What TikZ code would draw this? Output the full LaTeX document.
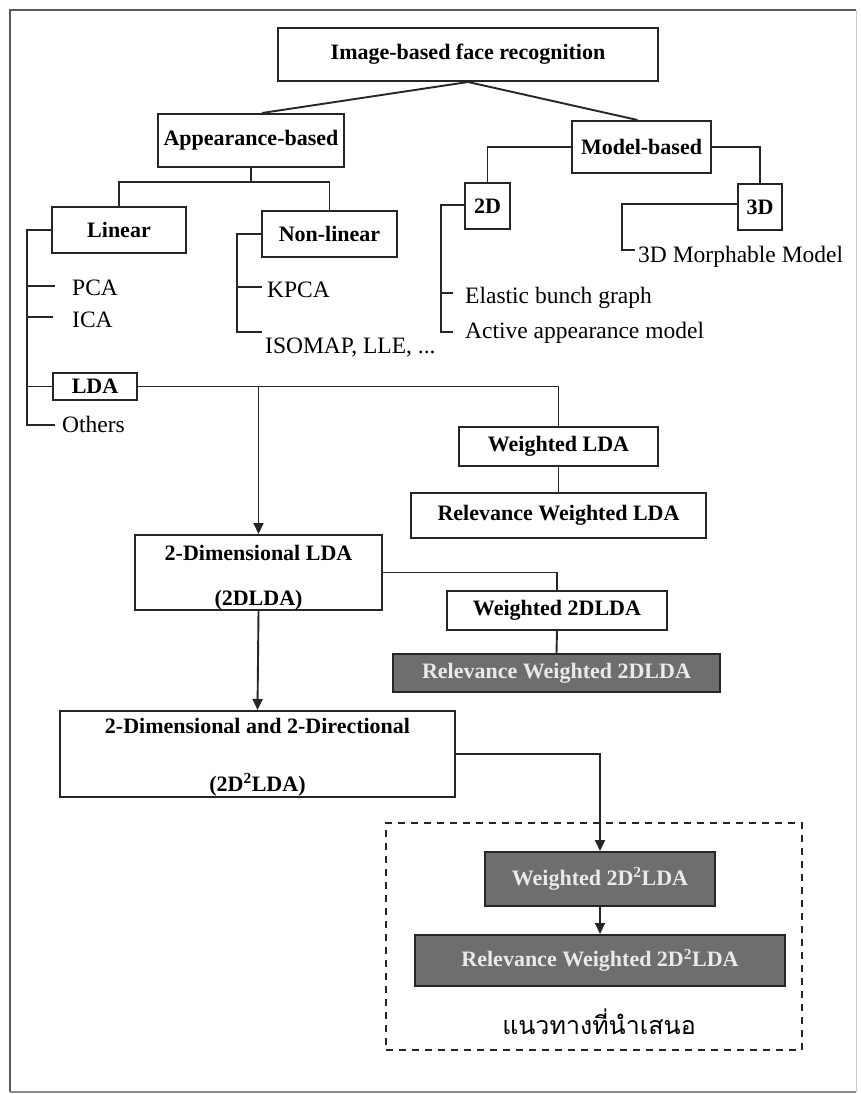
\documentclass[tikz,border=0pt]{standalone}
\usepackage{fontspec}
\setmainfont{Liberation Serif}
\newfontfamily\thaifont[Script=Thai]{Loma}
\usetikzlibrary{arrows.meta,calc}

\definecolor{linec}{HTML}{262626}
\definecolor{boxgray}{HTML}{6E6E6E}
\definecolor{boxtext}{HTML}{EAEAEA}
\definecolor{framec}{HTML}{5A5A5A}

\tikzset{
  box/.style={draw=linec, line width=2pt, fill=white, inner sep=0pt,
    font=\bfseries\fontsize{22}{26}\selectfont, text=black, align=center},
  darkbox/.style={box, fill=boxgray, text=boxtext},
  leaf/.style={anchor=base west, inner sep=0pt, font=\fontsize{23.5}{28}\selectfont},
  wire/.style={draw=linec, line width=1.9pt},
  arr/.style={wire, -{Triangle[length=11pt,width=10pt]}}
}

\begin{document}
\begin{tikzpicture}[x=1pt,y=-1pt]
\useasboundingbox (0,0) rectangle (860,1094);

% outer frame
\draw[framec, line width=1.8pt] (10,1092) -- (10,10) -- (856,10);
\draw[framec!70, line width=1.3pt] (10,1092) -- (856,1092);
\draw[black!20, line width=1pt] (856,10) -- (856,1092);

% ---- boxes ----
\node[box, minimum width=380, minimum height=53] (top) at (468,54.5) {Image-based face recognition};
\node[box, minimum width=186, minimum height=53] (app) at (251,140.5) {Appearance-based};
\node[box, minimum width=139, minimum height=52] (model) at (641.5,147) {Model-based};
\node[box, minimum width=134, minimum height=46] (linear) at (119,230) {Linear};
\node[box, minimum width=135, minimum height=46] (nonlin) at (329.5,234) {Non-linear};
\node[box, minimum width=45, minimum height=46] (b2d) at (487.5,206) {2D};
\node[box, minimum width=44, minimum height=46] (b3d) at (760,207) {3D};
\node[box, minimum width=84, minimum height=27, line width=1.7pt] (lda) at (95,386.5) {LDA};
\node[box, minimum width=199, minimum height=39] (wlda) at (558.5,446.5) {Weighted LDA};
\node[box, minimum width=295, minimum height=45] (rwlda) at (558.5,515.5) {Relevance Weighted LDA};
\node[box, minimum width=247, minimum height=75] (dlda) at (258.5,572.5) {\rule{0pt}{25pt}2-Dimensional LDA\\[19pt](2DLDA)};
\node[box, minimum width=220, minimum height=39] (wdlda) at (557,610.5) {Weighted 2DLDA};
\node[darkbox, minimum width=327, minimum height=38] (rwdlda) at (556.5,673) {Relevance Weighted 2DLDA};
\node[box, minimum width=395, minimum height=86] (ddlda) at (257.5,754) {\rule{0pt}{21pt}2-Dimensional and 2-Directional\\[32pt](2D\textsuperscript{2}LDA)};

% proposed approach
\node[draw=linec, dashed, dash pattern=on 7pt off 6pt, line width=2.2pt, inner sep=0pt,
      minimum width=416, minimum height=227] (prop) at (594,936.5) {};
\node[darkbox, minimum width=230, minimum height=54] (wdd) at (600,879) {Weighted 2D\textsuperscript{2}LDA};
\node[darkbox, minimum width=370, minimum height=51] (rwdd) at (600,960.5) {Relevance Weighted 2D\textsuperscript{2}LDA};
\node[inner sep=0pt, font=\thaifont\fontsize{25}{30}\selectfont] (thai) at (599,1022) {แนวทางที่นำเสนอ};

% ---- leaf labels ----
\node[leaf] (pca) at (72,295) {PCA};
\node[leaf] (ica) at (72,327) {ICA};
\node[leaf] (others) at (62,432) {Others};
\node[leaf] (kpca) at (267,297) {KPCA};
\node[leaf] (iso) at (265,353) {ISOMAP, LLE, ...};
\node[leaf] (ebg) at (465,303) {Elastic bunch graph};
\node[leaf] (aam) at (465,338) {Active appearance model};
\node[leaf] (mm) at (638,262) {3D Morphable Model};

% ---- tree connectors ----
\draw[wire] (top.south) -- ($(app.north)+(11,0)$);
\draw[wire] (top.south) -- ($(model.north)+(-4,0)$);

\coordinate (appbar) at (251,182);
\draw[wire] (app.south) -- (appbar);
\draw[wire] (linear.north) |- (appbar) -| (nonlin.north);

\draw[wire] (model.west) -| (b2d.north);
\draw[wire] (model.east) -| (b3d.north);

% linear methods
\coordinate (lt) at (27,230);
\coordinate (lpca) at (55,286);
\coordinate (lica) at (53,317);
\coordinate (loth) at (55,425);
\draw[wire] (linear.west) -- (lt) |- (loth);
\draw[wire] (lpca) -- (lpca -| lt);
\draw[wire] (lica) -- (lica -| lt);
\draw[wire] (lda.west) -- (lda.west -| lt);

% non-linear methods
\coordinate (nt) at (237,234);
\coordinate (nkpca) at (262,287);
\coordinate (niso) at (262,332);
\draw[wire] (nonlin.west) -- (nt) |- (niso);
\draw[wire] (nkpca) -- (nkpca -| nt);

% 2D models
\coordinate (tt) at (441,205);
\coordinate (tebg) at (453,293);
\coordinate (taam) at (453,332);
\draw[wire] (b2d.west |- tt) -- (tt) |- (taam);
\draw[wire] (tebg) -- (tebg -| tt);

% 3D models
\coordinate (dt) at (622,204);
\coordinate (dmm) at (635,250);
\draw[wire] (b3d.west |- dt) -- (dt) |- (dmm);

% LDA family
\draw[wire] (lda.east) -| (wlda.north);
\draw[arr] (lda.east -| dlda.north) -- (dlda.north);
\draw[wire] (wlda.south) -- (rwlda.north);
\draw[wire] (dlda.east) -| (wdlda.north);
\draw[wire] (wdlda.south) -- (rwdlda.north);
\draw[arr] (dlda.south) -- (ddlda.north);
\draw[arr] (ddlda.east) -| (wdd.north);
\draw[arr] (wdd.south) -- (rwdd.north);

\end{tikzpicture}
\end{document}
